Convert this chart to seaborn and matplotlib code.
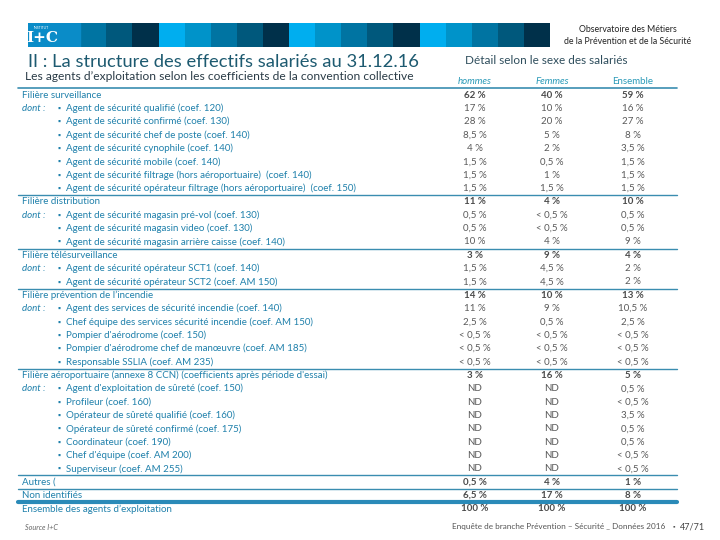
import numpy as np
import matplotlib
matplotlib.use("Agg")
import matplotlib.pyplot as plt
from matplotlib.colors import ListedColormap
import seaborn as sns

title = "II : La structure des effectifs salariés au 31.12.16"
subtitle = "Les agents d’exploitation selon les coefficients de la convention collective"
detail_title = "Détail selon le sexe des salariés"
columns = ["hommes", "Femmes", "Ensemble"]

labels = [
    "Filière surveillance",
    "Agent de sécurité qualifié (coef. 120)",
    "Agent de sécurité confirmé (coef. 130)",
    "Agent de sécurité chef de poste (coef. 140)",
    "Agent de sécurité cynophile (coef. 140)",
    "Agent de sécurité mobile (coef. 140)",
    "Agent de sécurité filtrage (hors aéroportuaire)  (coef. 140)",
    "Agent de sécurité opérateur filtrage (hors aéroportuaire)  (coef. 150)",
    "Filière distribution",
    "Agent de sécurité magasin pré-vol (coef. 130)",
    "Agent de sécurité magasin video (coef. 130)",
    "Agent de sécurité magasin arrière caisse (coef. 140)",
    "Filière télésurveillance",
    "Agent de sécurité opérateur SCT1 (coef. 140)",
    "Agent de sécurité opérateur SCT2 (coef. AM 150)",
    "Filière prévention de l’incendie",
    "Agent des services de sécurité incendie (coef. 140)",
    "Chef équipe des services sécurité incendie (coef. AM 150)",
    "Pompier d'aérodrome (coef. 150)",
    "Pompier d'aérodrome chef de manœuvre (coef. AM 185)",
    "Responsable SSLIA (coef. AM 235)",
    "Filière aéroportuaire (annexe 8 CCN) (coefficients après période d'essai)",
    "Agent d'exploitation de sûreté (coef. 150)",
    "Profileur (coef. 160)",
    "Opérateur de sûreté qualifié (coef. 160)",
    "Opérateur de sûreté confirmé (coef. 175)",
    "Coordinateur (coef. 190)",
    "Chef d'équipe (coef. AM 200)",
    "Superviseur (coef. AM 255)",
    "Autres (",
    "Non identifiés",
    "Ensemble des agents d’exploitation",
]
# f = filière, d = first sub-row ("dont :"), s = sub-row, t = total row
kinds = ["f", "d", "s", "s", "s", "s", "s", "s",
         "f", "d", "s", "s",
         "f", "d", "s",
         "f", "d", "s", "s", "s", "s",
         "f", "d", "s", "s", "s", "s", "s", "s",
         "t", "t", "t"]

hommes = ["62 %", "17 %", "28 %", "8,5 %", "4 %", "1,5 %", "1,5 %", "1,5 %",
          "11 %", "0,5 %", "0,5 %", "10 %",
          "3 %", "1,5 %", "1,5 %",
          "14 %", "11 %", "2,5 %", "< 0,5 %", "< 0,5 %", "< 0,5 %",
          "3 %", "ND", "ND", "ND", "ND", "ND", "ND", "ND",
          "0,5 %", "6,5 %", "100 %"]
femmes = ["40 %", "10 %", "20 %", "5 %", "2 %", "0,5 %", "1 %", "1,5 %",
          "4 %", "< 0,5 %", "< 0,5 %", "4 %",
          "9 %", "4,5 %", "4,5 %",
          "10 %", "9 %", "0,5 %", "< 0,5 %", "< 0,5 %", "< 0,5 %",
          "16 %", "ND", "ND", "ND", "ND", "ND", "ND", "ND",
          "4 %", "17 %", "100 %"]
ensemble = ["59 %", "16 %", "27 %", "8 %", "3,5 %", "1,5 %", "1,5 %", "1,5 %",
            "10 %", "0,5 %", "0,5 %", "9 %",
            "4 %", "2 %", "2 %",
            "13 %", "10,5 %", "2,5 %", "< 0,5 %", "< 0,5 %", "< 0,5 %",
            "5 %", "0,5 %", "< 0,5 %", "3,5 %", "0,5 %", "0,5 %", "< 0,5 %", "< 0,5 %",
            "1 %", "8 %", "100 %"]

banner_colors = ["#00aeef", "#0093c9", "#0074a2", "#00587c", "#00304a"]

sns.set_theme(style="white")
plt.rcParams['font.family'] = ['Lato', 'DejaVu Sans']

teal = "#1f80ab"
grey = "#5a5a5a"
line_c = "#3a8db0"
fs = 7.0

fig = plt.figure(figsize=(7.2, 5.4), dpi=100)
ax = fig.add_axes([0, 0, 1, 1])
ax.set_xlim(0, 720)
ax.set_ylim(540, 0)
ax.axis("off")

# banner of coloured squares
bax = fig.add_axes([28 / 720, 1 - 47 / 540, 522 / 720, 24 / 540])
cells = (np.arange(20) % 5).reshape(1, -1)
sns.heatmap(cells, cmap=ListedColormap(banner_colors), cbar=False, ax=bax,
            xticklabels=False, yticklabels=False, linewidths=0)
bax.add_patch(plt.Rectangle((0, 0), 2, 1, color="#0a8cc8", zorder=3))
bax.text(0.55, 0.62, "I+C", color="white", fontsize=11, fontweight="bold",
         ha="center", va="center", zorder=4, family=["DejaVu Serif"])
bax.text(0.5, 0.22, "INSTITUT", color="white", fontsize=2.5, ha="center",
         va="center", zorder=4)

ax.text(28, 62, title, fontsize=13.2, color="#1d5a70", va="center")
ax.text(25, 76, subtitle, fontsize=8.65, color="#2a3b46", va="center")
ax.text(628, 29, "Observatoire des Métiers", fontsize=6.3, color="#222222",
        ha="center", va="center")
ax.text(628, 41, "de la Prévention et de la Sécurité", fontsize=6.3,
        color="#222222", ha="center", va="center")
ax.text(546, 61, detail_title, fontsize=8.5, color="#2e4d5c", ha="center",
        va="center")

col_x = [475, 552, 633]
for cx, name in zip(col_x, columns):
    ax.text(cx, 82, name, fontsize=fs, color="#2a9ab8", ha="center",
            va="center", style="normal" if name == "Ensemble" else "italic")
ax.plot([18, 677], [88, 88], color=line_c, lw=1.2)

y_rows = 95 + np.arange(len(labels)) * 13.35
for i, (lab, kind) in enumerate(zip(labels, kinds)):
    y = y_rows[i]
    if kind in ("f", "t"):
        ax.text(22, y, lab, fontsize=fs, color=teal, va="center")
    else:
        if kind == "d":
            ax.text(22, y, "dont :", fontsize=fs, color=teal, va="center",
                    style="italic")
        ax.text(58, y, "▪", fontsize=5.5, color=teal, va="center")
        ax.text(66, y, lab, fontsize=fs, color=teal, va="center")
    bold = kind in ("f", "t")
    for cx, vals in zip(col_x, [hommes, femmes, ensemble]):
        ax.text(cx, y, vals[i], fontsize=fs, ha="center", va="center",
                color="#4a4a4a" if bold else grey,
                fontweight="bold" if bold else "normal")

for i, kind in enumerate(kinds):
    if i > 0 and kind in ("f", "t"):
        y = (y_rows[i - 1] + y_rows[i]) / 2
        lw = 3 if i == len(kinds) - 1 else 1
        ax.plot([18, 677], [y, y], color=line_c if lw == 1 else "#2a8ab8", lw=lw)

ax.text(25, 527, "Source I+C", fontsize=5.2, color="#666666", style="italic",
        va="center")
ax.text(452, 527, "Enquête de branche Prévention – Sécurité _ Données 2016",
        fontsize=5.85, color="#555555", va="center")
ax.text(673, 527, "▪", fontsize=4.5, color="#555555", va="center")
ax.text(680, 527, "47/71", fontsize=6.5, color="#444444", va="center")

fig.savefig("out.png", dpi=100)
